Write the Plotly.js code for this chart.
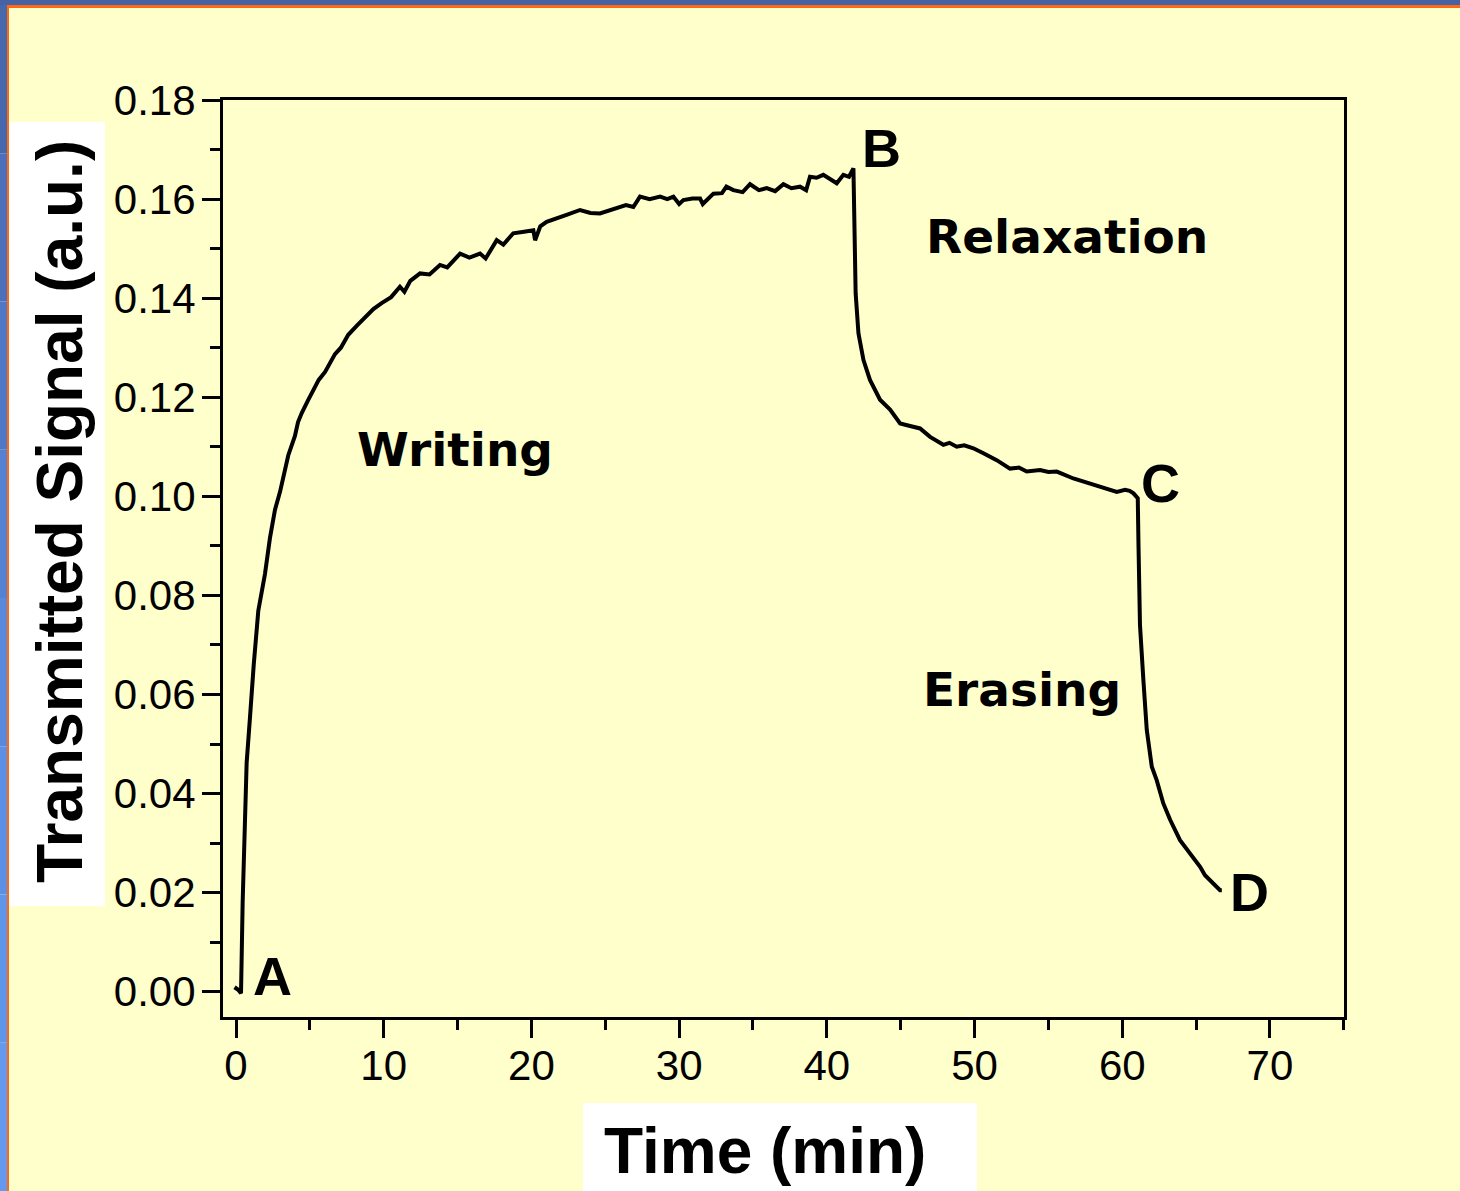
<!DOCTYPE html>
<html>
<head>
<meta charset="utf-8">
<script src="https://cdn.plot.ly/plotly-3.0.1.min.js"></script>
<style>
html,body{margin:0;padding:0;background:#FFFFCC;}
#chart{width:1460px;height:1191px;}
</style>
</head>
<body>
<div id="chart"></div>
<script>
// ---- data ----
const timeMin = [
 -0.1, 0.15, 0.34, 0.45, 0.72, 0.80, 0.95, 1.2, 1.51, 1.96, 2.30, 2.64, 2.98, 3.54, 3.99, 4.2, 4.45, 4.9, 5.23, 5.6,
 6.03, 6.4, 6.70, 7.1, 7.60, 8.2, 8.73, 9.3, 9.86, 10.5, 11.10, 11.4, 11.8, 12.46, 13.1, 13.81, 14.3, 15.17, 15.8, 16.52,
 16.9, 17.65, 18.1, 18.77, 19.5, 20.13, 20.25, 20.6, 21.03, 21.7, 22.38, 23.29, 24.0, 24.64, 25.2, 25.78, 26.4, 26.90, 27.35, 28.0,
 28.71, 29.2, 29.61, 30.0, 30.29, 30.9, 31.42, 31.6, 32.32, 32.9, 33.2, 33.67, 34.3, 34.80, 35.4, 35.93, 36.5, 37.06, 37.6, 38.19,
 38.6, 38.86, 39.3, 39.76, 40.2, 40.67, 41.12, 41.5, 41.80,
 41.90, 41.95, 42.14, 42.48, 42.92, 43.60, 44.28, 44.96, 45.5, 46.31, 46.99, 47.89, 48.3, 48.79, 49.3, 49.92, 50.60, 51.50, 52.40, 53.0,
 53.53, 54.44, 55.0, 55.57, 56.69, 57.82, 58.95, 59.63, 60.19, 60.5, 60.76, 61.05,
 61.10, 61.15, 61.20, 61.43, 61.66, 62.00, 62.33, 62.78, 63.24, 63.91, 64.59, 65.27, 65.6, 65.94, 66.3, 66.62, 66.74
];
const signal = [
 0.0009, 0.0004, -0.0003, 0.018, 0.0462, 0.049, 0.0555, 0.066, 0.0769, 0.0843, 0.0916, 0.0973, 0.1009, 0.1083, 0.1122, 0.1150, 0.1168, 0.1195, 0.1215, 0.1235,
 0.1251, 0.1272, 0.1287, 0.1300, 0.1326, 0.1345, 0.1362, 0.1378, 0.1390, 0.1402, 0.1423, 0.1413, 0.1435, 0.1450, 0.1448, 0.1467, 0.1462, 0.1490, 0.1482, 0.1490,
 0.1480, 0.1517, 0.1508, 0.1531, 0.1534, 0.1537, 0.1517, 0.1545, 0.1554, 0.1560, 0.1568, 0.1578, 0.1572, 0.1571, 0.1576, 0.1581, 0.1588, 0.1584, 0.1605, 0.1600,
 0.1605, 0.1600, 0.1605, 0.1590, 0.1598, 0.1601, 0.1601, 0.1590, 0.1611, 0.1612, 0.1625, 0.1618, 0.1614, 0.1630, 0.1618, 0.1622, 0.1616, 0.1630, 0.1622, 0.1625,
 0.1618, 0.1645, 0.1643, 0.1649, 0.1640, 0.1632, 0.1649, 0.1645, 0.1662,
 0.1500, 0.1410, 0.1329, 0.1275, 0.1235, 0.1195, 0.1175, 0.1147, 0.1143, 0.1137, 0.1120, 0.1104, 0.1108, 0.1100, 0.1103, 0.1097, 0.1087, 0.1073, 0.1056, 0.1058,
 0.1050, 0.1053, 0.1049, 0.1050, 0.1036, 0.1026, 0.1016, 0.1009, 0.1013, 0.1011, 0.1006, 0.0996,
 0.0900, 0.0750, 0.0740, 0.0629, 0.0528, 0.0454, 0.0427, 0.0380, 0.0347, 0.0306, 0.0279, 0.0252, 0.0235, 0.0225, 0.0215, 0.0205, 0.0205
];
const xTickVals = [0, 10, 20, 30, 40, 50, 60, 70];
const yTickVals = [0, 0.02, 0.04, 0.06, 0.08, 0.10, 0.12, 0.14, 0.16, 0.18];
const pointLabels = ["A", "B", "C", "D"];
const phaseLabels = ["Writing", "Relaxation", "Erasing"];
const xTitle = "Time (min)";
const yTitle = "Transmitted Signal (a.u.)";

// ---- layout helpers (pixel -> paper) ----
const W = 1460, H = 1191;
const L = 223, R = 1344, T = 100, B = 1017;
const px = p => (p - L) / (R - L);
const py = p => (B - p) / (B - T);

const shapes = [];
// blue / orange frame of the slide
shapes.push({type:'rect', xref:'paper', yref:'paper', x0:px(0), x1:px(W), y0:py(0), y1:py(5), fillcolor:'#4662A4', line:{width:0}, layer:'above'});
shapes.push({type:'rect', xref:'paper', yref:'paper', x0:px(8), x1:px(W), y0:py(5), y1:py(8), fillcolor:'#FF6A10', line:{width:0}, layer:'above'});
const leftCols = ['#4868AE','#4C70BA','#5078C6','#5481D2','#5889DC','#5C90E4','#6096EA','#6499EE'];
for (let i = 0; i < leftCols.length; i++) {
  const a = 5 + i * (H - 5) / leftCols.length, b = 5 + (i + 1) * (H - 5) / leftCols.length;
  shapes.push({type:'rect', xref:'paper', yref:'paper', x0:px(0), x1:px(7), y0:py(a), y1:py(b), fillcolor:leftCols[i], line:{width:0}, layer:'above'});
}
shapes.push({type:'rect', xref:'paper', yref:'paper', x0:px(7), x1:px(9), y0:py(5), y1:py(H), fillcolor:'#FF6A10', line:{width:0}, layer:'above'});
// white boxes behind the axis titles
shapes.push({type:'rect', xref:'paper', yref:'paper', x0:px(9), x1:px(105), y0:py(122), y1:py(906), fillcolor:'#FFFFFF', line:{width:0}, layer:'above'});
shapes.push({type:'rect', xref:'paper', yref:'paper', x0:px(583), x1:px(977), y0:py(1103), y1:py(H + 5), fillcolor:'#FFFFFF', line:{width:0}, layer:'above'});

const letterFont = {family:'Liberation Sans, Arial, sans-serif', size:54, color:'#000'};
const phaseFont = {family:'DejaVu Sans, Verdana, sans-serif', size:47, color:'#000'};
const titleFont = {family:'Liberation Sans, Arial, sans-serif', size:64, color:'#000'};

const letterPos = [[272, 976], [881, 148], [1160, 483], [1249, 892]];
const phasePos = [[455, 449], [1067, 237], [1022, 690]];

const annotations = [];
pointLabels.forEach((t, i) => annotations.push({
  text:'<b>' + t + '</b>', xref:'paper', yref:'paper', x:px(letterPos[i][0]), y:py(letterPos[i][1]),
  xanchor:'center', yanchor:'middle', showarrow:false, font:letterFont
}));
phaseLabels.forEach((t, i) => annotations.push({
  text:'<b>' + t + '</b>', xref:'paper', yref:'paper', x:px(phasePos[i][0]), y:py(phasePos[i][1]),
  xanchor:'center', yanchor:'middle', showarrow:false, font:phaseFont
}));
annotations.push({text:'<b>' + xTitle + '</b>', xref:'paper', yref:'paper', x:px(765), y:py(1151),
  xanchor:'center', yanchor:'middle', showarrow:false, font:titleFont});
annotations.push({text:'<b>' + yTitle + '</b>', xref:'paper', yref:'paper', x:px(60), y:py(512),
  xanchor:'center', yanchor:'middle', showarrow:false, textangle:-90, font:titleFont});

const x0 = (L - 236) / 14.771, x1 = (R - 236) / 14.771;
const y1 = 0.18, y0 = 0.18 - (B - T) / 4953.9;

const tickFont = {family:'Liberation Sans, Arial, sans-serif', size:42, color:'#000'};

const trace = {
  x: timeMin, y: signal, type:'scatter', mode:'lines',
  line:{color:'#000', width:4}, hoverinfo:'skip'
};

const layout = {
  width:W, height:H,
  paper_bgcolor:'#FFFFCC', plot_bgcolor:'#FFFFCC',
  margin:{l:L, r:W - R, t:T, b:H - B, pad:0},
  showlegend:false,
  xaxis:{
    range:[x0, x1], tickmode:'array', tickvals:xTickVals, ticktext:xTickVals.map(String),
    ticks:'outside', ticklen:18, tickwidth:3, tickcolor:'#000',
    minor:{dtick:5, tick0:0, ticks:'outside', ticklen:10, tickwidth:3, tickcolor:'#000', showgrid:false},
    showline:true, linewidth:3, linecolor:'#000', mirror:true,
    showgrid:false, zeroline:false, tickfont:tickFont, ticklabelstandoff:-8
  },
  yaxis:{
    range:[y0, y1], tickmode:'array', tickvals:yTickVals, ticktext:yTickVals.map(v => v.toFixed(2)),
    ticks:'outside', ticklen:18, tickwidth:3, tickcolor:'#000',
    minor:{dtick:0.01, tick0:0, ticks:'outside', ticklen:10, tickwidth:3, tickcolor:'#000', showgrid:false},
    showline:true, linewidth:3, linecolor:'#000', mirror:true,
    showgrid:false, zeroline:false, tickfont:tickFont, ticklabelstandoff:-2
  },
  shapes:shapes,
  annotations:annotations
};

Plotly.newPlot('chart', [trace], layout, {displayModeBar:false, staticPlot:true});
</script>
</body>
</html>
